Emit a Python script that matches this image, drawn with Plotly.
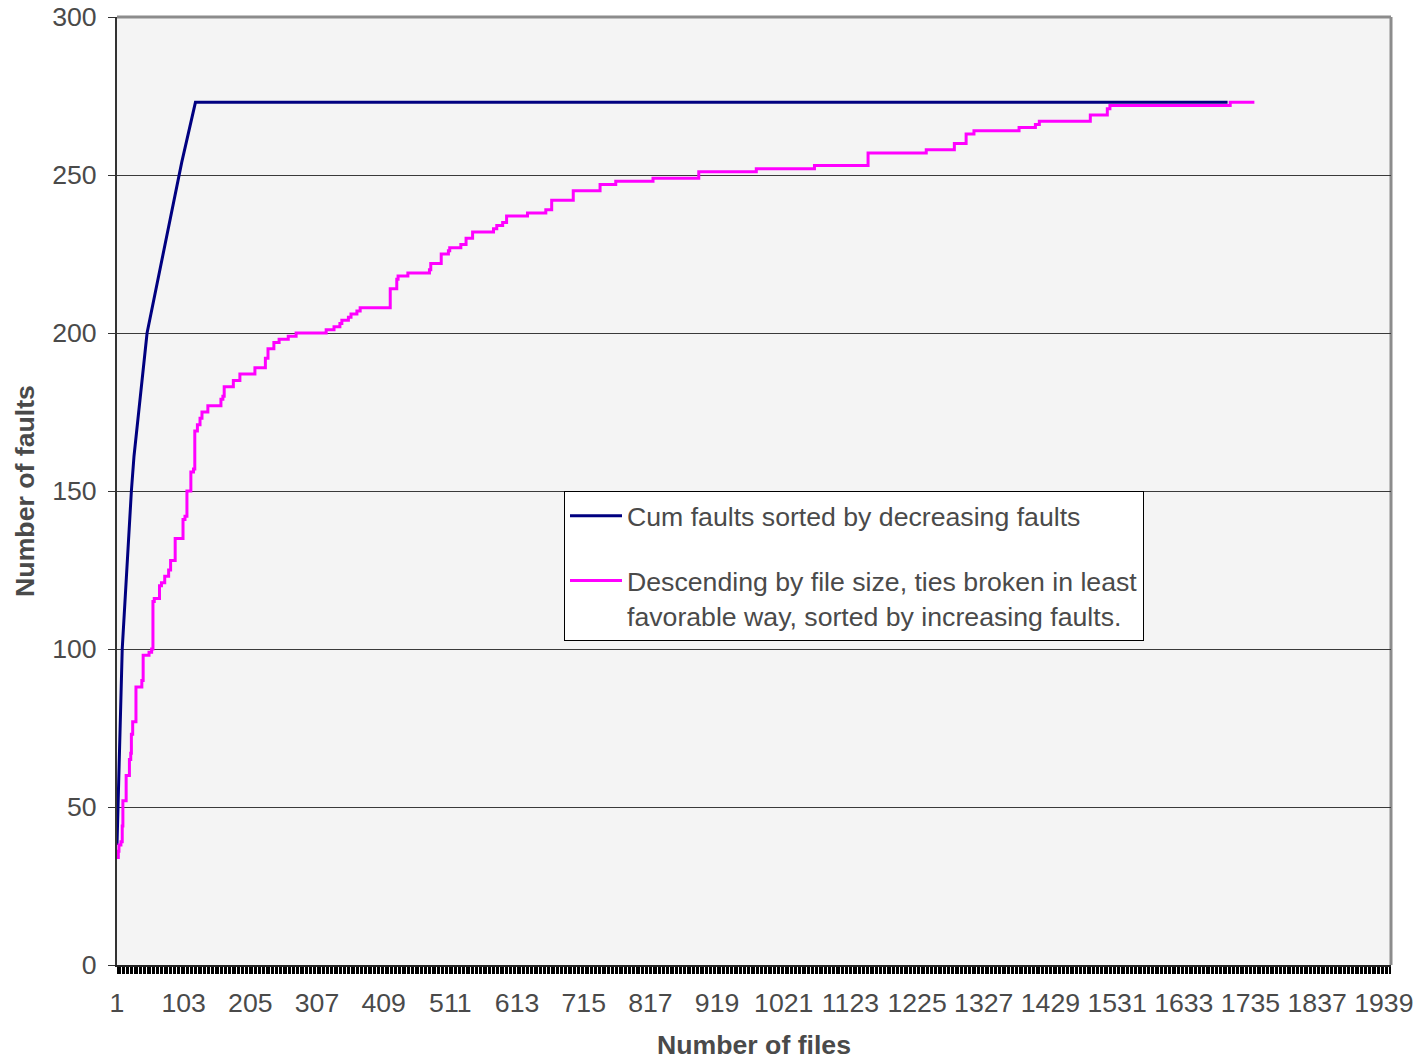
import plotly.graph_objects as go

# Cumulative faults, files sorted by decreasing fault count
blue_files = [1, 9, 23, 27, 47, 100, 121, 1700]
blue_faults = [38, 100, 150, 161, 200, 254, 273, 273]

# Cumulative faults, files in descending size order (step changes)
pink_files = [1, 3, 4, 7, 9, 10, 15, 20, 22, 23, 25, 30, 39, 41, 50, 54, 56, 58,
              66, 69, 74, 80, 83, 90, 102, 105, 108, 114, 118, 120, 124, 128, 131,
              140, 160, 163, 165, 179, 189, 212, 228, 232, 241, 249, 263, 275, 321,
              333, 342, 345, 355, 359, 368, 373, 419, 429, 431, 446, 479, 481, 497,
              508, 510, 527, 535, 545, 577, 582, 591, 597, 629, 657, 666, 699, 740,
              764, 821, 891, 979, 1068, 1150, 1239, 1282, 1300, 1312, 1381, 1406,
              1412, 1490, 1516, 1520, 1704, 1741]
pink_faults = [34, 36, 38, 39, 44, 52, 60, 65, 67, 73, 77, 88, 90, 98, 99, 100, 115, 116,
               120, 121, 123, 125, 128, 135, 141, 142, 150, 156, 157, 169, 171, 173, 175,
               177, 179, 180, 183, 185, 187, 189, 192, 195, 197, 198, 199, 200, 201,
               202, 203, 204, 205, 206, 207, 208, 214, 217, 218, 219, 220, 222, 225,
               226, 227, 228, 230, 232, 233, 234, 235, 237, 238, 239, 242, 245, 247,
               248, 249, 251, 252, 253, 257, 258, 260, 263, 264, 265, 266,
               267, 269, 271, 272, 273, 273]

x_tick_vals = list(range(1, 1950, 102))
x_tick_text = [str(v) for v in x_tick_vals]
y_tick_vals = [0, 50, 100, 150, 200, 250, 300]

series_names = [
    "Cum faults sorted by decreasing faults",
    "Descending by file size, ties broken in least<br>favorable way, sorted by increasing faults.",
]

text_grey = "#4a4a4a"
font_size = 26.67

fig = go.Figure()
fig.add_trace(go.Scatter(
    x=blue_files, y=blue_faults, mode="lines", name=series_names[0],
    legendgroup="g1", line=dict(color="#000080", width=3),
))
fig.add_trace(go.Scatter(
    x=pink_files, y=pink_faults, mode="lines", name=series_names[1],
    legendgroup="g2", line=dict(color="#FF00FF", width=3, shape="hv"),
))

# top and right frame of the plot area
fig.add_shape(type="line", xref="paper", yref="paper", x0=0, x1=1, y0=1, y1=1,
              line=dict(color="#8c8c8c", width=3), layer="below")
fig.add_shape(type="line", xref="paper", yref="paper", x0=1, x1=1, y0=0, y1=1,
              line=dict(color="#8c8c8c", width=3), layer="below")

fig.update_layout(
    width=1418, height=1060,
    margin=dict(l=117, r=27, t=17, b=95, autoexpand=False),
    paper_bgcolor="white",
    plot_bgcolor="#F4F4F4",
    font=dict(family="Liberation Sans, Arial, sans-serif", size=font_size, color=text_grey),
    showlegend=True,
    legend=dict(
        x=(564 - 117) / 1274, y=0.5, xanchor="left", yanchor="top",
        bgcolor="white", bordercolor="black", borderwidth=1,
        font=dict(size=font_size, color=text_grey),
        tracegroupgap=27, valign="top", itemwidth=52,
    ),
    xaxis=dict(
        range=[1, 1950], tickmode="array", tickvals=x_tick_vals, ticktext=x_tick_text,
        ticks="outside", ticklen=7, tickcolor="black", tickwidth=1,
        showgrid=False, zeroline=False, automargin=False,
        showline=True, linecolor="#222222", linewidth=2,
        ticklabelstandoff=6,
        minor=dict(dtick=2, tick0=1, ticks="outside", ticklen=7, tickcolor="black",
                   tickwidth=1.2, showgrid=False),
        title=dict(text="<b>Number of files</b>", standoff=24,
                   font=dict(size=font_size, color=text_grey)),
    ),
    yaxis=dict(
        range=[0, 300], tickmode="array", tickvals=y_tick_vals,
        ticks="outside", ticklen=7, tickcolor="#333333",
        showgrid=True, gridcolor="#3a3a3a", gridwidth=1,
        zeroline=False, showline=True, linecolor="#333333", linewidth=2,
        automargin=False, ticklabelstandoff=6,
        title=dict(text="<b>Number of faults</b>", standoff=10,
                   font=dict(size=font_size, color=text_grey)),
    ),
)

fig.write_html("out.html")
